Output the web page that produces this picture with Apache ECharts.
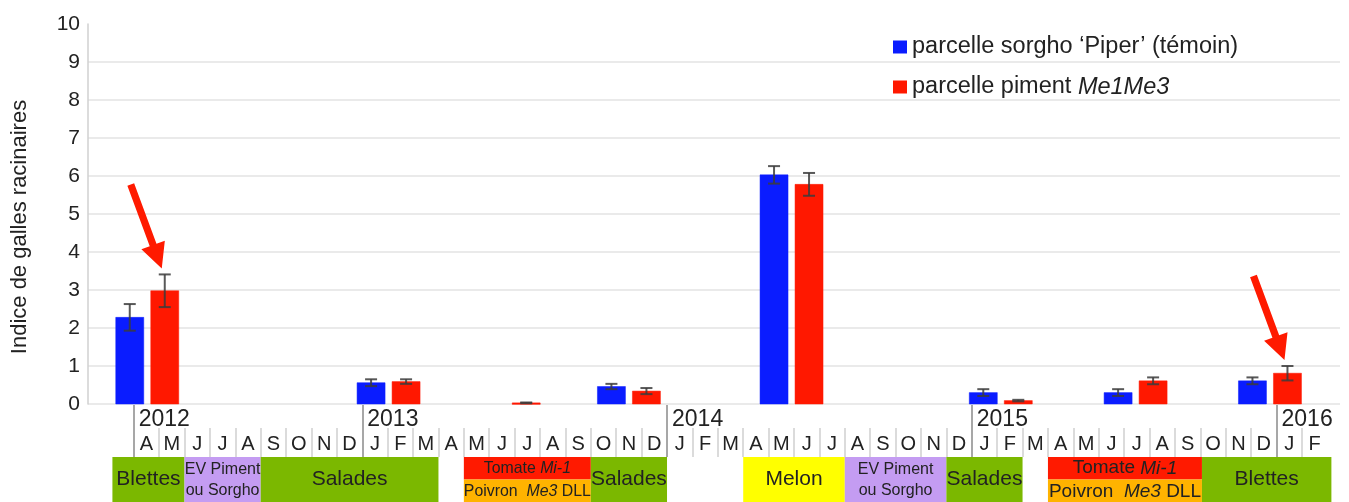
<!DOCTYPE html>
<html><head><meta charset="utf-8">
<script src="https://cdn.jsdelivr.net/npm/echarts@6/dist/echarts.min.js"></script>
<style>html,body{margin:0;padding:0;background:#fff}#c{width:1349px;height:502px}</style>
</head><body><div id="c"></div>
<script>
// ---------- data ----------
const sampleDates = ['2012-04-17','2013-02-02','2013-06-24','2013-11-16','2014-05-29','2015-02-05','2015-07-15','2015-12-24'];
const blueValues = [2.28, 0.56, null, 0.46, 6.03, 0.30, 0.30, 0.61];
const blueErr    = [0.35, 0.09, null, 0.07, 0.23, 0.09, 0.09, 0.09];
const redValues  = [2.98, 0.59, 0.03, 0.34, 5.78, 0.09, 0.61, 0.81];
const redErr     = [0.43, 0.06, 0.01, 0.08, 0.30, 0.02, 0.09, 0.19];
const arrowIdx   = [0, 7];
const seriesNames = ["parcelle sorgho \u2018Piper\u2019 (t\u00e9moin)", "parcelle piment Me1Me3"];
const yTicks = [0,1,2,3,4,5,6,7,8,9,10];
const yTitle = 'Indice de galles racinaires';
const monthLetters = ['A','M','J','J','A','S','O','N','D',
  'J','F','M','A','M','J','J','A','S','O','N','D',
  'J','F','M','A','M','J','J','A','S','O','N','D',
  'J','F','M','A','M','J','J','A','S','O','N','D',
  'J','F'];
const years = ['2012','2013','2014','2015','2016'];
const cropNames = ['Blettes','EV Piment\nou Sorgho','Salades','Tomate {i|Mi-1}','Poivron  {i|Me3} DLL','Salades','Melon','EV Piment\nou Sorgho','Salades','Tomate {i|Mi-1}','Poivron  {i|Me3} DLL','Blettes'];
const cropKinds = ['blettes','ev','salades','tomate','poivron','salades','melon','ev','salades','tomate','poivron','blettes'];
const cropStart = ['2012-03-06','2012-06-01','2012-09-01','2013-05-01','2013-05-01','2013-10-01','2014-04-01','2014-08-01','2014-12-01','2015-04-01','2015-04-01','2015-10-03'];
const cropEnd   = ['2012-06-01','2012-09-01','2013-04-01','2013-10-01','2013-10-01','2014-01-01','2014-08-01','2014-12-01','2015-03-01','2015-10-03','2015-10-03','2016-03-06'];
const cropRow   = ['full','full','full','top','bottom','full','full','full','full','top','bottom','full'];

// ---------- helpers ----------
function toMonthIdx(s){
  const [y,m,d] = s.split('-').map(Number);
  const dim = new Date(y, m, 0).getDate();
  return (y-2012)*12 + (m-1) - 3 + (d-1)/dim;
}
const yearTickPos = years.map(y => Math.max(0, (Number(y)-2012)*12 - 3));
const monthTickPos = [];
for (let i = 1; i < monthLetters.length; i++) if (yearTickPos.indexOf(i) < 0) monthTickPos.push(i);
const monthLabelPos = monthLetters.map((_, i) => i + 0.5);

const FONT = '"Liberation Sans", Arial, Helvetica, sans-serif';
const TXT = '#222';
const XMIN = -1.8, XMAX = 47.5;
const BLUE = '#0a1cff', RED = '#ff1800';
const cropStyle = {
  blettes:{fill:'#7bb800'}, salades:{fill:'#7bb800'}, ev:{fill:'#c49cf2'},
  tomate:{fill:'#ff1a00'}, poivron:{fill:'#ffb300'}, melon:{fill:'#ffff00'}
};

function barRender(side, color, arrows){
  return function(params, api){
    const x = api.value(0), v = api.value(1), e = api.value(2);
    if (isNaN(v)) return;
    const base = api.coord([x, 0]);
    const top = api.coord([x, v]);
    const w = 28, cx = base[0] + side*17.5;
    const children = [{type:'rect', shape:{x:cx-w/2, y:top[1], width:w, height:Math.max(base[1]-top[1],1.5)},
      style:{fill:color, stroke:color, lineWidth:0.5}}];
    let eTop = top[1];
    if (!isNaN(e) && e > 0){
      eTop = api.coord([x, v+e])[1];
      const eBot = api.coord([x, v-e])[1];
      const st = {stroke:'rgba(60,60,60,0.85)', lineWidth:2};
      children.push({type:'line', shape:{x1:cx, y1:eTop, x2:cx, y2:eBot}, style:st});
      children.push({type:'line', shape:{x1:cx-6, y1:eTop, x2:cx+6, y2:eTop}, style:st});
      children.push({type:'line', shape:{x1:cx-6, y1:eBot, x2:cx+6, y2:eBot}, style:st});
    }
    if (arrows && arrows.indexOf(params.dataIndex) >= 0){
      const tip = [cx-3, eTop-6], tail = [tip[0]-31, tip[1]-84];
      const dx = tip[0]-tail[0], dy = tip[1]-tail[1], L = Math.hypot(dx,dy);
      const d = [dx/L, dy/L], n = [-d[1], d[0]];
      const hb = [tip[0]-d[0]*25, tip[1]-d[1]*25];
      const P = (p,k)=>[p[0]+n[0]*k, p[1]+n[1]*k];
      children.push({type:'polygon', shape:{points:[P(tail,3.6),P(hb,3.6),P(hb,12.5),tip,P(hb,-12.5),P(hb,-3.6),P(tail,-3.6)]},
        style:{fill:'#ff1a00'}});
    }
    return {type:'group', children};
  };
}

function cropRender(params, api){
  const s = api.value(0), e = api.value(1), rowI = api.value(2);
  const i = params.dataIndex;
  const y1 = rowI === 2 ? 1 : 2;
  const y0 = rowI === 1 ? 1 : 0;
  const p0 = api.coord([s, y1]), p1 = api.coord([e, y0]);
  const w = p1[0]-p0[0];
  const kind = cropKinds[i];
  const ev = kind === 'ev';
  let fs = 21;
  if (ev) fs = 16;
  else if (kind === 'tomate' || kind === 'poivron') fs = Math.min(19, w*0.125);
  return {type:'group', children:[
    {type:'rect', shape:{x:p0[0], y:p0[1], width:w, height:p1[1]-p0[1]}, style:cropStyle[kind]},
    {type:'text', x:(p0[0]+p1[0])/2, y:(p0[1]+p1[1])/2 + (rowI===2?1:0) + (ev?1:0),
      style:{text:cropNames[i], align:'center', verticalAlign:'middle', fill:TXT,
        font: fs + 'px ' + FONT, lineHeight: ev?21:undefined,
        rich:{i:{fontStyle:'italic', fontSize:fs, fontFamily:FONT, fill:TXT}}}}
  ]};
}

const xs = sampleDates.map(toMonthIdx);
const blueData = xs.map((x,i)=>[x, blueValues[i]==null?'-':blueValues[i], blueErr[i]==null?'-':blueErr[i]]);
const redData = xs.map((x,i)=>[x, redValues[i], redErr[i]]);
const cropData = cropNames.map((_,i)=>[toMonthIdx(cropStart[i]), toMonthIdx(cropEnd[i]), cropRow[i]==='full'?0:(cropRow[i]==='top'?1:2)]);

const chart = echarts.init(document.getElementById('c'), null, {renderer:'canvas'});
chart.setOption({
  animation:false,
  textStyle:{fontFamily:FONT},
  grid:[
    {left:88, right:9, top:24, height:380, containLabel:false},
    {left:88, right:9, top:405, height:52},
    {left:88, right:9, top:405, height:52},
    {left:88, right:9, top:457, height:48}
  ],
  legend:{
    orient:'vertical', left:893, top:34, padding:0, itemWidth:14, itemHeight:13, itemGap:14,
    textStyle:{fontSize:23.5, color:TXT, fontFamily:FONT, lineHeight:26,
      rich:{i:{fontStyle:'italic', fontSize:23.5, color:TXT, fontFamily:FONT}}},
    formatter: n => n === seriesNames[1] ? 'parcelle piment {i|Me1Me3}' : n,
    data:[{name:seriesNames[0], icon:'rect'},{name:seriesNames[1], icon:'rect'}]
  },
  xAxis:[
    {gridIndex:0, type:'value', min:XMIN, max:XMAX, show:false},
    {gridIndex:1, type:'value', min:XMIN, max:XMAX, position:'bottom',
      axisLine:{show:false}, splitLine:{show:false},
      axisTick:{show:true, inside:true, length:29, customValues:monthTickPos, lineStyle:{color:'#cfcfcf', width:1.5}},
      axisLabel:{show:true, inside:true, margin:3, customValues:monthLabelPos,
        formatter:v=>monthLetters[Math.floor(v)], fontSize:20, color:TXT, fontFamily:FONT}},
    {gridIndex:2, type:'value', min:XMIN, max:XMAX, position:'bottom',
      axisLine:{show:false}, splitLine:{show:false},
      axisTick:{show:true, inside:true, length:52, customValues:yearTickPos, lineStyle:{color:'#8a8a8a', width:1.5}},
      axisLabel:{show:true, inside:true, margin:26, customValues:yearTickPos, align:'left', padding:[0,0,0,5],
        formatter:v=>years[yearTickPos.indexOf(v)], fontSize:23, color:TXT, fontFamily:FONT}},
    {gridIndex:3, type:'value', min:XMIN, max:XMAX, show:false}
  ],
  yAxis:[
    {gridIndex:0, type:'value', min:0, max:10, interval:1,
      name:yTitle, nameLocation:'middle', nameRotate:90, nameGap:57,
      nameTextStyle:{fontSize:22, color:TXT, fontFamily:FONT, padding:[0,26,0,0]},
      axisLine:{show:true, onZero:false, lineStyle:{color:'#d0d0d0', width:1.5}},
      axisTick:{show:false},
      axisLabel:{fontSize:21, color:TXT, margin:8, fontFamily:FONT, formatter:v=>String(yTicks[v])},
      splitLine:{show:true, showMaxLine:false, lineStyle:{color:'#e3e3e3', width:1.5}}},
    {gridIndex:1, type:'value', min:0, max:1, show:false},
    {gridIndex:2, type:'value', min:0, max:1, show:false},
    {gridIndex:3, type:'value', min:0, max:2, show:false}
  ],
  series:[
    {name:'crops', type:'custom', xAxisIndex:3, yAxisIndex:3, renderItem:cropRender, data:cropData, clip:false, z:1,
      encode:{x:[0,1], y:2}},
    {name:seriesNames[0], type:'custom', xAxisIndex:0, yAxisIndex:0, renderItem:barRender(-1, BLUE, null),
      data:blueData, itemStyle:{color:BLUE}, encode:{x:0, y:1}, clip:false, z:3},
    {name:seriesNames[1], type:'custom', xAxisIndex:0, yAxisIndex:0, renderItem:barRender(1, RED, arrowIdx),
      data:redData, itemStyle:{color:RED}, encode:{x:0, y:1}, clip:false, z:3}
  ]
});
</script></body></html>
